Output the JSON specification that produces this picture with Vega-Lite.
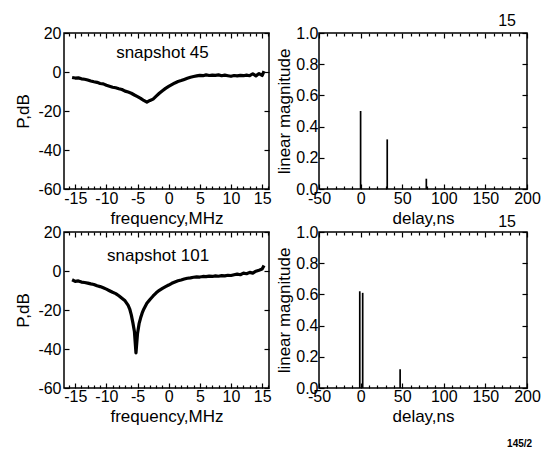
{
  "$schema": "https://vega.github.io/schema/vega-lite/v6.json",
  "padding": {"top": 12, "left": 14, "right": 5, "bottom": 5},
  "background": "white",
  "config": {
    "font": "Liberation Sans",
    "view": {"stroke": "black", "strokeWidth": 1.5},
    "axis": {
      "domain": false, "grid": false,
      "labelFont": "Liberation Sans", "labelFontSize": 16, "labelColor": "black",
      "titleFont": "Liberation Sans", "titleFontSize": 17, "titleColor": "black", "titleFontWeight": "normal",
      "tickColor": "black", "tickWidth": 1.2, "labelFlush": false, "labelOverlap": false
    },
    "title": {"font": "Liberation Sans", "fontWeight": "normal", "color": "black"}
  },
  "columns": 2,
  "spacing": {"row": 43, "column": 50},
  "bounds": "flush",
  "title": {"text": "145/2", "orient": "bottom", "anchor": "end", "fontSize": 10, "fontWeight": "bold", "offset": 14, "dx": -9},
  "concat": [
    {
      "width": 205, "height": 156,
      "layer": [
        {
          "data": {"values": [
            {"f":-15.5,"p":-2.8},{"f":-15,"p":-3.1},{"f":-14.5,"p":-3.0},{"f":-14,"p":-3.5},{"f":-13.5,"p":-3.7},{"f":-13,"p":-4.1},{"f":-12.5,"p":-4.6},{"f":-12,"p":-5.0},{"f":-11.5,"p":-5.3},{"f":-11,"p":-5.9},{"f":-10.5,"p":-6.1},{"f":-10,"p":-6.8},{"f":-9.5,"p":-7.3},{"f":-9,"p":-7.8},{"f":-8.5,"p":-8.1},{"f":-8,"p":-8.6},{"f":-7.5,"p":-9.0},{"f":-7,"p":-9.8},{"f":-6.5,"p":-10.3},{"f":-6,"p":-10.9},{"f":-5.5,"p":-11.8},{"f":-5,"p":-12.6},{"f":-4.5,"p":-13.5},{"f":-4,"p":-14.6},{"f":-3.5,"p":-15.5},{"f":-3,"p":-14.6},{"f":-2.5,"p":-13.9},{"f":-2,"p":-12.4},{"f":-1.5,"p":-10.9},{"f":-1,"p":-9.6},{"f":-0.5,"p":-8.4},{"f":0,"p":-7.4},{"f":0.5,"p":-6.5},{"f":1,"p":-5.6},{"f":1.5,"p":-4.9},{"f":2,"p":-4.4},{"f":2.5,"p":-3.8},{"f":3,"p":-3.2},{"f":3.5,"p":-2.7},{"f":4,"p":-2.3},{"f":4.5,"p":-2.0},{"f":5,"p":-1.7},{"f":5.5,"p":-1.9},{"f":6,"p":-1.5},{"f":6.5,"p":-1.8},{"f":7,"p":-1.6},{"f":7.5,"p":-1.7},{"f":8,"p":-1.5},{"f":8.5,"p":-1.9},{"f":9,"p":-1.6},{"f":9.5,"p":-1.9},{"f":10,"p":-2.2},{"f":10.5,"p":-1.8},{"f":11,"p":-2.0},{"f":11.5,"p":-1.7},{"f":12,"p":-1.9},{"f":12.5,"p":-1.6},{"f":13,"p":-1.9},{"f":13.5,"p":-0.9},{"f":14,"p":-2.0},{"f":14.5,"p":-0.8},{"f":15,"p":-1.8},{"f":15.3,"p":0.5}
          ]},
          "mark": {"type": "line", "color": "black", "strokeWidth": 3.2, "strokeJoin": "round"},
          "encoding": {
            "x": {"field": "f", "type": "quantitative", "scale": {"domain": [-16.8, 16.1], "nice": false, "zero": false},
              "axis": {"title": "frequency,MHz", "values": [-16,-15,-14,-13,-12,-11,-10,-9,-8,-7,-6,-5,-4,-3,-2,-1,0,1,2,3,4,5,6,7,8,9,10,11,12,13,14,15,16],
                "labelExpr": "datum.value % 5 == 0 ? toString(datum.value) : ''",
                "tickSize": {"condition": {"test": "datum.value % 5 == 0", "value": -5}, "value": -3},
                "labelPadding": 6, "titlePadding": 2}},
            "y": {"field": "p", "type": "quantitative", "scale": {"domain": [-60, 20], "nice": false},
              "axis": {"title": "P,dB", "values": [-60,-40,-20,0,20], "labelExpr": "toString(datum.value)", "tickSize": -5, "labelPadding": 8, "titlePadding": 5}}
          }
        },
        {
          "data": {"values": [{"f": -1.0, "p": 9.9, "label": "snapshot 45"}]},
          "mark": {"type": "text", "fontSize": 17, "color": "black"},
          "encoding": {
            "x": {"field": "f", "type": "quantitative",
              "axis": {"orient": "top", "labels": false, "title": null, "values": [-16,-15,-14,-13,-12,-11,-10,-9,-8,-7,-6,-5,-4,-3,-2,-1,0,1,2,3,4,5,6,7,8,9,10,11,12,13,14,15,16],
                "tickSize": {"condition": {"test": "datum.value % 5 == 0", "value": -5}, "value": -3}}},
            "y": {"field": "p", "type": "quantitative",
              "axis": {"orient": "right", "labels": false, "title": null, "values": [-60,-40,-20,0,20], "tickSize": -5}},
            "text": {"field": "label"}
          }
        }
      ],
      "resolve": {"axis": {"x": "independent", "y": "independent"}}
    },
    {
      "width": 208, "height": 156,
      "title": {"text": "15", "anchor": "end", "frame": "group", "fontSize": 16, "offset": -4, "dx": -11},
      "data": {"values": [{"d": 0, "m": 0.5}, {"d": 32, "m": 0.318}, {"d": 79, "m": 0.066}]},
      "layer": [
        {
          "mark": {"type": "rule", "color": "black", "strokeWidth": 1.7},
          "encoding": {
            "x": {"field": "d", "type": "quantitative", "scale": {"domain": [-50, 200], "nice": false, "zero": false},
              "axis": {"title": "delay,ns", "values": [-50,-40,-30,-20,-10,0,10,20,30,40,50,60,70,80,90,100,110,120,130,140,150,160,170,180,190,200],
                "labelExpr": "datum.value % 50 == 0 ? toString(datum.value) : ''",
                "tickSize": {"condition": {"test": "datum.value % 50 == 0", "value": -5}, "value": -3},
                "labelPadding": 6, "titlePadding": 2}},
            "y": {"field": "m", "type": "quantitative", "scale": {"domain": [0, 1], "nice": false},
              "axis": {"title": "linear magnitude", "values": [0, 0.2, 0.4, 0.6, 0.8, 1], "format": ".1f", "tickSize": -5, "labelPadding": 6, "titlePadding": 2}},
            "y2": {"datum": 0}
          }
        },
        {
          "mark": {"type": "rule", "color": "black", "opacity": 0},
          "encoding": {
            "x": {"field": "d", "type": "quantitative",
              "axis": {"orient": "top", "labels": false, "title": null, "values": [-50,-40,-30,-20,-10,0,10,20,30,40,50,60,70,80,90,100,110,120,130,140,150,160,170,180,190,200],
                "tickSize": {"condition": {"test": "datum.value % 50 == 0", "value": -5}, "value": -3}}},
            "y": {"field": "m", "type": "quantitative",
              "axis": {"orient": "right", "labels": false, "title": null, "values": [0, 0.2, 0.4, 0.6, 0.8, 1], "tickSize": -5}}
          }
        }
      ],
      "resolve": {"axis": {"x": "independent", "y": "independent"}}
    },
    {
      "width": 205, "height": 156,
      "layer": [
        {
          "data": {"values": [
            {"f":-15.5,"p":-4.5},{"f":-15,"p":-5.3},{"f":-14.5,"p":-5.1},{"f":-14,"p":-5.7},{"f":-13.5,"p":-5.9},{"f":-13,"p":-6.2},{"f":-12.5,"p":-6.6},{"f":-12,"p":-6.9},{"f":-11.5,"p":-7.6},{"f":-11,"p":-8.0},{"f":-10.5,"p":-8.6},{"f":-10,"p":-9.3},{"f":-9.5,"p":-10.1},{"f":-9,"p":-10.9},{"f":-8.5,"p":-11.6},{"f":-8,"p":-12.7},{"f":-7.5,"p":-14.0},{"f":-7,"p":-15.3},{"f":-6.5,"p":-17.6},{"f":-6.25,"p":-19.5},{"f":-6,"p":-22.5},{"f":-5.75,"p":-26.5},{"f":-5.5,"p":-31},{"f":-5.25,"p":-42},{"f":-5.0,"p":-32},{"f":-4.75,"p":-27},{"f":-4.5,"p":-24},{"f":-4.25,"p":-21.5},{"f":-4,"p":-19.6},{"f":-3.5,"p":-16.6},{"f":-3,"p":-14.6},{"f":-2.5,"p":-12.8},{"f":-2,"p":-11.2},{"f":-1.5,"p":-9.9},{"f":-1,"p":-8.9},{"f":-0.5,"p":-8.0},{"f":0,"p":-7.2},{"f":0.5,"p":-6.3},{"f":1,"p":-5.6},{"f":1.5,"p":-5.0},{"f":2,"p":-4.6},{"f":2.5,"p":-4.1},{"f":3,"p":-3.7},{"f":3.5,"p":-3.5},{"f":4,"p":-3.2},{"f":4.5,"p":-3.0},{"f":5,"p":-3.1},{"f":5.5,"p":-2.8},{"f":6,"p":-2.9},{"f":6.5,"p":-2.6},{"f":7,"p":-2.8},{"f":7.5,"p":-2.5},{"f":8,"p":-2.7},{"f":8.5,"p":-2.4},{"f":9,"p":-2.5},{"f":9.5,"p":-2.2},{"f":10,"p":-2.3},{"f":10.5,"p":-1.9},{"f":11,"p":-1.6},{"f":11.5,"p":-1.9},{"f":12,"p":-1.1},{"f":12.5,"p":-1.4},{"f":13,"p":-0.7},{"f":13.5,"p":-1.1},{"f":14,"p":-0.1},{"f":14.5,"p":0.4},{"f":15,"p":1.0},{"f":15.3,"p":2.8}
          ]},
          "mark": {"type": "line", "color": "black", "strokeWidth": 3.2, "strokeJoin": "round"},
          "encoding": {
            "x": {"field": "f", "type": "quantitative", "scale": {"domain": [-16.8, 16.1], "nice": false, "zero": false},
              "axis": {"title": "frequency,MHz", "values": [-16,-15,-14,-13,-12,-11,-10,-9,-8,-7,-6,-5,-4,-3,-2,-1,0,1,2,3,4,5,6,7,8,9,10,11,12,13,14,15,16],
                "labelExpr": "datum.value % 5 == 0 ? toString(datum.value) : ''",
                "tickSize": {"condition": {"test": "datum.value % 5 == 0", "value": -5}, "value": -3},
                "labelPadding": 5, "titlePadding": 2}},
            "y": {"field": "p", "type": "quantitative", "scale": {"domain": [-60, 20], "nice": false},
              "axis": {"title": "P,dB", "values": [-60,-40,-20,0,20], "labelExpr": "toString(datum.value)", "tickSize": -5, "labelPadding": 8, "titlePadding": 5}}
          }
        },
        {
          "data": {"values": [{"f": -1.7, "p": 7.7, "label": "snapshot 101"}]},
          "mark": {"type": "text", "fontSize": 17, "color": "black"},
          "encoding": {
            "x": {"field": "f", "type": "quantitative",
              "axis": {"orient": "top", "labels": false, "title": null, "values": [-16,-15,-14,-13,-12,-11,-10,-9,-8,-7,-6,-5,-4,-3,-2,-1,0,1,2,3,4,5,6,7,8,9,10,11,12,13,14,15,16],
                "tickSize": {"condition": {"test": "datum.value % 5 == 0", "value": -5}, "value": -3}}},
            "y": {"field": "p", "type": "quantitative",
              "axis": {"orient": "right", "labels": false, "title": null, "values": [-60,-40,-20,0,20], "tickSize": -5}},
            "text": {"field": "label"}
          }
        }
      ],
      "resolve": {"axis": {"x": "independent", "y": "independent"}}
    },
    {
      "width": 208, "height": 156,
      "title": {"text": "15", "anchor": "end", "frame": "group", "fontSize": 16, "offset": -6, "dx": -11},
      "data": {"values": [{"d": -1, "m": 0.62}, {"d": 2.5, "m": 0.61}, {"d": 47.5, "m": 0.12}]},
      "layer": [
        {
          "mark": {"type": "rule", "color": "black", "strokeWidth": 1.7},
          "encoding": {
            "x": {"field": "d", "type": "quantitative", "scale": {"domain": [-50, 200], "nice": false, "zero": false},
              "axis": {"title": "delay,ns", "values": [-50,-40,-30,-20,-10,0,10,20,30,40,50,60,70,80,90,100,110,120,130,140,150,160,170,180,190,200],
                "labelExpr": "datum.value % 50 == 0 ? toString(datum.value) : ''",
                "tickSize": {"condition": {"test": "datum.value % 50 == 0", "value": -5}, "value": -3},
                "labelPadding": 5, "titlePadding": 2}},
            "y": {"field": "m", "type": "quantitative", "scale": {"domain": [0, 1], "nice": false},
              "axis": {"title": "linear magnitude", "values": [0, 0.2, 0.4, 0.6, 0.8, 1], "format": ".1f", "tickSize": -5, "labelPadding": 6, "titlePadding": 2}},
            "y2": {"datum": 0}
          }
        },
        {
          "mark": {"type": "rule", "color": "black", "opacity": 0},
          "encoding": {
            "x": {"field": "d", "type": "quantitative",
              "axis": {"orient": "top", "labels": false, "title": null, "values": [-50,-40,-30,-20,-10,0,10,20,30,40,50,60,70,80,90,100,110,120,130,140,150,160,170,180,190,200],
                "tickSize": {"condition": {"test": "datum.value % 50 == 0", "value": -5}, "value": -3}}},
            "y": {"field": "m", "type": "quantitative",
              "axis": {"orient": "right", "labels": false, "title": null, "values": [0, 0.2, 0.4, 0.6, 0.8, 1], "tickSize": -5}}
          }
        }
      ],
      "resolve": {"axis": {"x": "independent", "y": "independent"}}
    }
  ]
}
